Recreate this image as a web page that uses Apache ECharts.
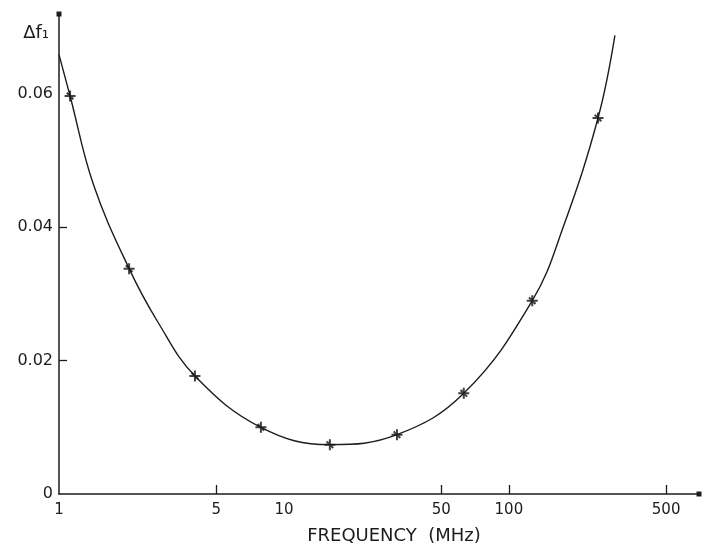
<!DOCTYPE html>
<html>
<head>
<meta charset="utf-8">
<script src="https://cdn.jsdelivr.net/npm/echarts@6/dist/echarts.min.js"></script>
<style>html,body{margin:0;padding:0;background:#fff}#c{width:702px;height:550px}</style>
</head>
<body>
<div id="c"></div>
<script>
// Measured points (crosses)
const markFreq = [1.12, 2.05, 4.02, 7.9, 16.0, 31.8, 63, 127, 249];
const markDf   = [0.0597, 0.0338, 0.0177, 0.0100, 0.0074, 0.0089, 0.0151, 0.0290, 0.0564];
// Additional points
const curveFreq = [1.0, 1.42, 2.75, 175, 296];
const curveDf   = [0.0659, 0.0465, 0.0258, 0.0402, 0.0688];
// Axis labels
const xLabels = [1, 5, 10, 50, 100, 500];
const xTicks  = [5, 50, 100, 500];
const yLabels = [0, 0.02, 0.04, 0.06];
const yTicks  = [0.02, 0.04];

const curve = markFreq.map((f, i) => [f, markDf[i]])
  .concat(curveFreq.map((f, i) => [f, curveDf[i]]))
  .sort((a, b) => a[0] - b[0]);

const ink = '#1c1c1c';
const font = 'DejaVu Sans';
const chart = echarts.init(document.getElementById('c'));
chart.setOption({
  animation: false,
  grid: { left: 59, right: 3, top: 14, bottom: 49, containLabel: false },
  xAxis: {
    type: 'log', logBase: 10, min: 1, max: 700,
    name: 'FREQUENCY  (MHz)', nameLocation: 'middle', nameGap: 33,
    nameTextStyle: { fontFamily: font, fontSize: 18, color: ink, padding: [0, 0, 0, 30] },
    axisLine: { show: true, onZero: false, symbol: ['none', 'rect'], symbolSize: [5, 5],
      lineStyle: { color: ink, width: 1.5 } },
    axisTick: { show: true, inside: true, length: 9, customValues: xTicks,
      lineStyle: { color: ink, width: 1.3 } },
    axisLabel: { customValues: xLabels, margin: 9, fontFamily: font, fontSize: 15, color: ink },
    splitLine: { show: false },
    minorTick: { show: false }
  },
  yAxis: {
    type: 'value', min: 0, max: 0.072,
    name: 'Δf₁', nameLocation: 'end', nameGap: -28,
    nameTextStyle: { fontFamily: font, fontSize: 18, color: ink, align: 'right', padding: [0, 10, 0, 0] },
    axisLine: { show: true, symbol: ['none', 'rect'], symbolSize: [5, 5],
      lineStyle: { color: ink, width: 1.5 } },
    axisTick: { show: true, inside: true, length: 8, customValues: yTicks,
      lineStyle: { color: ink, width: 1.3 } },
    axisLabel: { customValues: yLabels, margin: 6, fontFamily: font, fontSize: 16, color: ink,
      formatter: v => v === 0 ? '0' : v.toFixed(2) },
    splitLine: { show: false }
  },
  series: [
    {
      type: 'line', data: curve, smooth: 0.4, showSymbol: false,
      lineStyle: { color: ink, width: 1.4 }, z: 2
    },
    {
      type: 'scatter', data: markFreq.map((f, i) => [f, markDf[i]]),
      symbol: 'path://M0,-5L0,5M-5,0L5,0M-3,-3L3,3', symbolSize: 11,
      itemStyle: { color: 'none', borderColor: '#111', borderWidth: 2 }, z: 3
    }
  ]
});
</script>
</body>
</html>
